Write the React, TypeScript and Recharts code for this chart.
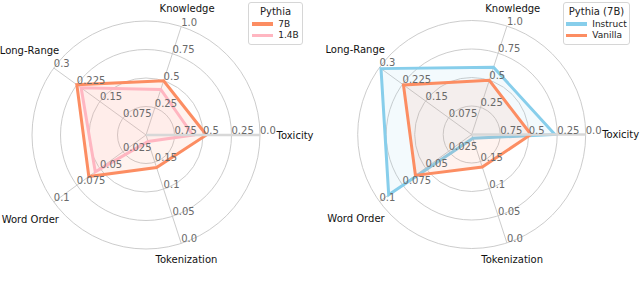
import React from 'react';
import {
  RadarChart, Radar, PolarGrid, PolarAngleAxis, PolarRadiusAxis, Legend,
} from 'recharts';

// axis order runs counter-clockwise from the right (Toxicity at 0deg)
const categories = ['Toxicity', 'Knowledge', 'Long-Range', 'Word Order', 'Tokenization'];

// tick labels per axis, innermost ring -> outer ring
const toxicityTicks = ['0.75', '0.5', '0.25', '0.0'];
const knowledgeTicks = ['0.25', '0.5', '0.75', '1.0'];
const longRangeTicks = ['0.075', '0.15', '0.225', '0.3'];
const wordOrderTicks = ['0.025', '0.05', '0.075', '0.1'];
const tokenizationTicks = ['0.15', '0.1', '0.05', '0.0'];

// values in category order
const pythia7B = [0.47, 0.5, 0.225, 0.062, 0.14];
const pythia1_4B = [0.59, 0.42, 0.211, 0.055, 0.188];
const instruct7B = [0.27, 0.62, 0.295, 0.09, 0.193];
const vanilla7B = [0.48, 0.5, 0.222, 0.061, 0.14];

const tickSets: Record<string, string[]> = {
  Toxicity: toxicityTicks,
  Knowledge: knowledgeTicks,
  'Long-Range': longRangeTicks,
  'Word Order': wordOrderTicks,
  Tokenization: tokenizationTicks,
};

// label distance from centre (matplotlib puts them centred along the spoke)
const labelRadius: Record<string, number> = {
  Toxicity: 149,
  Knowledge: 133,
  'Long-Range': 144,
  'Word Order': 143,
  Tokenization: 131,
};

// every axis has its own linear scale; map to ring units (ring 1..4)
function toRing(cat: string, v: number) {
  const t = tickSets[cat].map(Number);
  return 1 + (3 * (v - t[0])) / (t[3] - t[0]);
}

function buildRows(series: Record<string, number[]>) {
  return categories.map((cat, i) => {
    const row: Record<string, string | number> = { axis: cat };
    Object.keys(series).forEach((k) => {
      row[k] = toRing(cat, series[k][i]);
    });
    return row;
  });
}

const FONT = '"DejaVu Sans", sans-serif';
const W = 320;
const H = 286;
const R = 114;

interface SeriesDef { key: string; name: string; color: string }

function LegendBox({ title, items, w }: { title: string; items: SeriesDef[]; w: number }) {
  return (
    <div style={{
      width: w, background: '#fff', border: '1px solid #d6d6d6', borderRadius: 3,
      fontFamily: FONT, padding: '2px 0 3px 0', boxSizing: 'border-box',
    }}>
      <div style={{ textAlign: 'center', fontSize: 10, color: '#222', lineHeight: '13px' }}>{title}</div>
      <div style={{ display: 'flex', justifyContent: 'center' }}>
        <div>
          {items.map((it) => (
            <div key={it.key} style={{ display: 'flex', alignItems: 'center', height: 11.5 }}>
              <div style={{ width: 21, height: 3.5, background: it.color, marginRight: 5 }} />
              <span style={{ fontSize: 9, color: '#222' }}>{it.name}</span>
            </div>
          ))}
        </div>
      </div>
    </div>
  );
}

function SpiderPanel({
  series, defs, cx, cy, title, legendLeft, legendWidth,
}: {
  series: Record<string, number[]>; defs: SeriesDef[]; cx: number; cy: number;
  title: string; legendLeft: number; legendWidth: number;
}) {
  const rows = buildRows(series);

  const angleTick = (props: any) => {
    const name = props.payload.value as string;
    const idx = categories.indexOf(name);
    const a = (idx * 72 * Math.PI) / 180;
    const r = labelRadius[name];
    return (
      <text
        x={cx + r * Math.cos(a)}
        y={cy - r * Math.sin(a)}
        textAnchor="middle"
        dominantBaseline="central"
        fontSize={10}
        fontFamily={FONT}
        fill="#111"
      >
        {name}
      </text>
    );
  };

  const radiusTick = (cat: string) => (props: any) => {
    const v = props.payload.value as number;
    if (v < 1) return <g />;
    return (
      <text x={props.x} y={props.y - 1} textAnchor="start" fontSize={10} fontFamily={FONT} fill="#6a6a6a">
        {tickSets[cat][v - 1]}
      </text>
    );
  };

  return (
    <RadarChart
      width={W}
      height={H}
      data={rows}
      cx={cx}
      cy={cy}
      outerRadius={R}
      startAngle={-72}
      endAngle={288}
      margin={{ top: 0, right: 0, bottom: 0, left: 0 }}
    >
      <PolarGrid gridType="circle" stroke="#c6c6c6" strokeWidth={0.9} />
      <PolarAngleAxis dataKey="axis" tick={angleTick} tickLine={false} axisLine={false} />
      <PolarRadiusAxis
        radiusAxisId={0}
        type="number"
        domain={[0, 4]}
        ticks={[0, 1, 2, 3, 4]}
        tick={false}
        axisLine={false}
      />
      {defs.map((d) => (
        <Radar
          key={d.key}
          name={d.name}
          dataKey={d.key}
          stroke={d.color}
          strokeWidth={3}
          fill={d.color}
          fillOpacity={0.1}
          isAnimationActive={false}
        />
      ))}
      {categories.map((cat, i) => (
        <PolarRadiusAxis
          key={cat}
          radiusAxisId={cat}
          angle={i * 72}
          type="number"
          domain={[0, 4]}
          allowDataOverflow
          ticks={[0, 1, 2, 3, 4]}
          tick={radiusTick(cat)}
          tickLine={false}
          axisLine={i === 0 ? { stroke: '#d8d8d8', strokeWidth: 2.5 } : false}
        />
      ))}
      <Legend
        content={() => <LegendBox title={title} items={defs} w={legendWidth} />}
        wrapperStyle={{ left: legendLeft, top: 2, width: legendWidth, bottom: 'auto' }}
      />
    </RadarChart>
  );
}

export default function App() {
  return (
    <div style={{ position: 'absolute', left: 0, top: 0, width: 640, height: 286, background: '#fff' }}>
      <div style={{ position: 'absolute', left: 0, top: 0 }}>
        <SpiderPanel
          series={{ s7b: pythia7B, s14b: pythia1_4B }}
          defs={[
            { key: 's7b', name: '7B', color: '#fc8d62' },
            { key: 's14b', name: '1.4B', color: '#ffb6c1' },
          ]}
          cx={146}
          cy={135}
          title="Pythia"
          legendLeft={248}
          legendWidth={55}
        />
      </div>
      <div style={{ position: 'absolute', left: 320, top: 0 }}>
        <SpiderPanel
          series={{ instruct: instruct7B, vanilla: vanilla7B }}
          defs={[
            { key: 'instruct', name: 'Instruct', color: '#87ceeb' },
            { key: 'vanilla', name: 'Vanilla', color: '#fc8d62' },
          ]}
          cx={151.7}
          cy={134.5}
          title="Pythia (7B)"
          legendLeft={243}
          legendWidth={67}
        />
      </div>
    </div>
  );
}
